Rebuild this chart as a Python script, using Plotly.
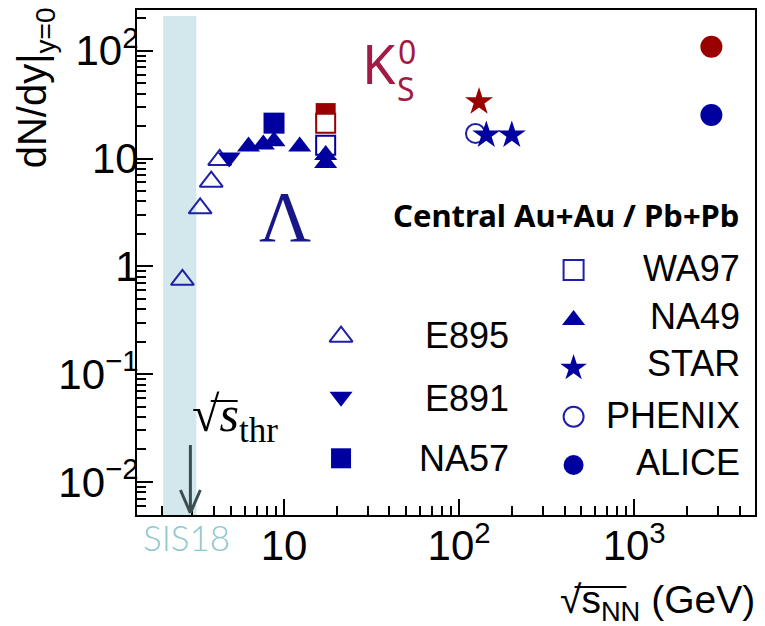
import math
import plotly.graph_objects as go

# Mid-rapidity yields dN/dy|_{y=0} in central Au+Au / Pb+Pb collisions
E895_SQRTS = [2.63, 3.32, 3.84, 4.29]
E895_LAMBDA = [0.75, 3.45, 6.1, 9.7]
E891_SQRTS = [4.86]
E891_LAMBDA = [10.2]
NA49_SQRTS = [6.27, 7.62, 8.77, 12.3, 17.3, 17.3]
NA49_LAMBDA = [12.9, 13.5, 14.5, 12.9, 10.8, 9.1]
NA57_SQRTS = [8.77]
NA57_LAMBDA = [21.3]
NA57_K0S_SQRTS = [17.3]
NA57_K0S = [26.4]
WA97_SQRTS = [17.3]
WA97_LAMBDA = [13.3]
WA97_K0S = [21.3]
STAR_SQRTS = [143, 200]
STAR_LAMBDA = [16.5, 16.5]
STAR_K0S_SQRTS = [130]
STAR_K0S = [33.6]
PHENIX_SQRTS = [124]
PHENIX_LAMBDA = [17.1]
ALICE_SQRTS = [2760]
ALICE_LAMBDA = [25.3]
ALICE_K0S = [109]

# SIS18 energy range and threshold energy (GeV)
SIS18_BAND = [2.04, 3.16]
SQRTS_THR = 2.92

X_TICK_VALUES = [10, 100, 1000]
X_TICK_TEXT = ["10", "10<sup>2</sup>", "10<sup>3</sup>"]
Y_TICK_VALUES = [0.01, 0.1, 1, 10, 100]
Y_TICK_TEXT = ["10<sup>−2</sup>", "10<sup>−1</sup>", "1", "10", "10<sup>2</sup>"]

# ---- layout constants ----
W, H = 765, 626
PLOT_L, PLOT_R, PLOT_T, PLOT_B = 137, 757, 10, 515
X_RANGE = [0.1605, 3.69]
Y_RANGE = [-2.307, 2.378]

BLUE = "#0000a0"
BLUE_OPEN = "#1f1fa8"
RED = "#990000"
K0S_TEXT = "#a31a45"
SIS_COLOR = "#8fc7cd"
BAND_COLOR = "#d3e8ec"
ARROW_COLOR = "#3b4d4f"
SANS = "Liberation Sans, Arial, sans-serif"
SERIF = "Liberation Serif, Times New Roman, serif"


def xp(px):
    return (px - PLOT_L) / (PLOT_R - PLOT_L)


def yp(py):
    return (PLOT_B - py) / (PLOT_B - PLOT_T)


def xdata_paper(v):
    return (math.log10(v) - X_RANGE[0]) / (X_RANGE[1] - X_RANGE[0])


def minor_ticks(lo_exp, hi_exp):
    vals = []
    for e in range(lo_exp, hi_exp + 1):
        for k in range(2, 10):
            vals.append(k * 10 ** e)
    return vals


fig = go.Figure()


def add(x, y, symbol, color, size, line_color=None, line_width=0, xa="x", ya="y"):
    fig.add_trace(go.Scatter(
        x=x, y=y, mode="markers", xaxis=xa, yaxis=ya, hoverinfo="skip",
        marker=dict(symbol=symbol, color=color, size=size,
                    line=dict(color=line_color or color, width=line_width)),
    ))


# data markers (drawing order matters where they overlap)
add(NA57_K0S_SQRTS, NA57_K0S, "square", RED, 20)
add(WA97_SQRTS, WA97_K0S, "square", "white", 19, RED, 2)
add(WA97_SQRTS, WA97_LAMBDA, "square", "white", 19, BLUE, 2)
add(E895_SQRTS, E895_LAMBDA, "triangle-up-open", BLUE_OPEN, 20, BLUE_OPEN, 2)
add(E891_SQRTS, E891_LAMBDA, "triangle-down", BLUE, 20)
add(NA49_SQRTS, NA49_LAMBDA, "triangle-up", BLUE, 20)
add(NA57_SQRTS, NA57_LAMBDA, "square", BLUE, 21)
add(PHENIX_SQRTS, PHENIX_LAMBDA, "circle-open", BLUE_OPEN, 19, BLUE_OPEN, 2)
add(STAR_K0S_SQRTS, STAR_K0S, "star", RED, 21)
add(STAR_SQRTS, STAR_LAMBDA, "star", BLUE, 21)
add(ALICE_SQRTS, ALICE_K0S, "circle", RED, 22)
add(ALICE_SQRTS, ALICE_LAMBDA, "circle", BLUE, 22)

# legend: symbol column + right-aligned labels
LEGEND_LEFT = [("E895", "triangle-up-open", 336.7, 335), ("E891", "triangle-down", 396.7, 398),
               ("NA57", "square", 458.3, 458)]
LEGEND_RIGHT = [("WA97", "square-open", 270, 268), ("NA49", "triangle-up", 320, 316),
                ("STAR", "star", 368, 363), ("PHENIX", "circle-open", 416.7, 415),
                ("ALICE", "circle", 465, 462)]

annotations = []
for entries, sym_x, text_right in ((LEGEND_LEFT, 341.7, 512), (LEGEND_RIGHT, 575, 744)):
    for label, sym, sym_y, text_y in entries:
        is_open = sym.endswith("open")
        add([xp(sym_x)], [yp(sym_y)], sym, BLUE_OPEN if is_open else BLUE, 20,
            BLUE_OPEN if is_open else BLUE, 2 if is_open else 0, xa="x2", ya="y2")
        annotations.append(dict(
            x=xp(text_right), y=yp(text_y), xref="paper", yref="paper",
            xanchor="right", yanchor="middle", showarrow=False, text=label,
            font=dict(family=SANS, size=36, color="black"),
        ))

annotations += [
    dict(x=xp(743), y=yp(215), xanchor="right", yanchor="middle",
         text="<b>Central Au+Au / Pb+Pb</b>",
         font=dict(family="Noto Sans, sans-serif", size=31, color="black")),
    dict(x=xp(361), y=yp(63), xanchor="left", yanchor="middle", text="K",
         font=dict(family="Noto Sans, sans-serif", size=54, color=K0S_TEXT)),
    dict(x=xp(397), y=yp(52), xanchor="left", yanchor="middle", text="0",
         font=dict(family="Noto Sans, sans-serif", size=32, color=K0S_TEXT)),
    dict(x=xp(396), y=yp(88), xanchor="left", yanchor="middle", text="S",
         font=dict(family="Noto Sans, sans-serif", size=32, color=K0S_TEXT)),
    dict(x=xp(285), y=yp(217), xanchor="center", yanchor="middle", text="Λ",
         font=dict(family=SERIF, size=72, color="#17178a")),
    dict(x=xp(190), y=yp(418), xanchor="left", yanchor="middle",
         text="√<i>s</i><sub>thr</sub>",
         font=dict(family=SERIF, size=50, color="black")),
    dict(x=xp(187), y=yp(537), xanchor="center", yanchor="middle", text="SIS18",
         font=dict(family="Lato, sans-serif", size=35, color=SIS_COLOR, weight=300)),
    dict(x=xp(759), y=yp(602), xanchor="right", yanchor="middle",
         text="√s<sub>NN</sub> (GeV)",
         font=dict(family=SANS, size=39, color="black")),
    dict(x=xp(35), y=yp(88), xanchor="center", yanchor="middle", textangle=-90,
         text="dN/dy|<sub>y=0</sub>",
         font=dict(family=SANS, size=40, color="black")),
]
for a in annotations:
    a.setdefault("xref", "paper")
    a.setdefault("yref", "paper")
    a.setdefault("showarrow", False)

x_thr = xdata_paper(SQRTS_THR)
arm_dx = 10 / (PLOT_R - PLOT_L)
arm_dy = 23 / (PLOT_B - PLOT_T)
tip = yp(513)
shapes = [
    dict(type="rect", xref="x", yref="paper", x0=SIS18_BAND[0], x1=SIS18_BAND[1],
         y0=0, y1=yp(16), fillcolor=BAND_COLOR, line=dict(width=0), layer="below"),
    dict(type="line", xref="paper", yref="paper", x0=x_thr, x1=x_thr, y0=yp(445), y1=tip,
         line=dict(color=ARROW_COLOR, width=3)),
    dict(type="line", xref="paper", yref="paper", x0=x_thr - arm_dx, x1=x_thr,
         y0=tip + arm_dy, y1=tip, line=dict(color=ARROW_COLOR, width=3)),
    dict(type="line", xref="paper", yref="paper", x0=x_thr + arm_dx, x1=x_thr,
         y0=tip + arm_dy, y1=tip, line=dict(color=ARROW_COLOR, width=3)),
    # vincula over the square-root arguments
    dict(type="line", xref="paper", yref="paper", x0=xp(211), x1=xp(238),
         y0=yp(401), y1=yp(401), line=dict(color="black", width=2)),
    dict(type="line", xref="paper", yref="paper", x0=xp(576), x1=xp(628),
         y0=yp(587), y1=yp(587), line=dict(color="black", width=2)),
]

axis_common = dict(
    type="log", ticks="inside", ticklen=16, tickwidth=1.5, tickcolor="black",
    showline=True, linecolor="black", linewidth=2, mirror=True,
    showgrid=False, zeroline=False, tickmode="array",
    tickfont=dict(family=SANS, size=42, color="black"),
)

fig.update_layout(
    width=W, height=H,
    margin=dict(l=PLOT_L, r=W - PLOT_R, t=PLOT_T, b=H - PLOT_B),
    paper_bgcolor="white", plot_bgcolor="white", showlegend=False,
    xaxis=dict(range=X_RANGE, tickvals=X_TICK_VALUES, ticktext=X_TICK_TEXT,
               ticklabelstandoff=-7,
               minor=dict(tickvals=minor_ticks(0, 3), ticks="inside", ticklen=9,
                          tickwidth=1.5, tickcolor="black", showgrid=False),
               **axis_common),
    yaxis=dict(range=Y_RANGE, tickvals=Y_TICK_VALUES, ticktext=Y_TICK_TEXT,
               ticklabelstandoff=-12,
               minor=dict(tickvals=minor_ticks(-3, 2), ticks="inside", ticklen=9,
                          tickwidth=1.5, tickcolor="black", showgrid=False),
               **axis_common),
    xaxis2=dict(range=[0, 1], overlaying="x", visible=False, fixedrange=True),
    yaxis2=dict(range=[0, 1], overlaying="y", visible=False, fixedrange=True),
    annotations=annotations,
    shapes=shapes,
)

fig.write_html("out.html")
